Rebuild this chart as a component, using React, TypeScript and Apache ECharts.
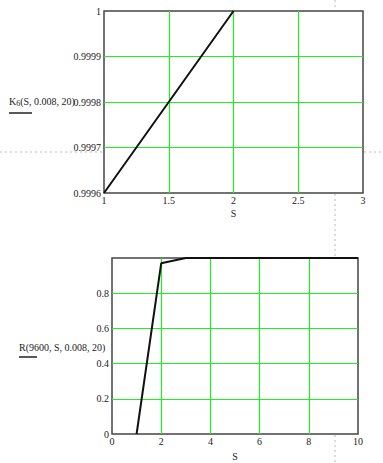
import React, { useEffect, useRef } from "react";
import * as echarts from "echarts";

const topS = [1, 1.25, 1.5, 1.75, 2];
const topK = [0.9996, 0.9997, 0.9998, 0.9999, 1.0];
const botS = [1, 2, 3, 4, 5, 6, 7, 8, 9, 10];
const botR = [0, 0.97, 0.9997, 1, 1, 1, 1, 1, 1, 1];

const FONT = "Liberation Serif";
const GREEN = "#22ee22";
const BORDER = "#444";

export default function App() {
  const ref = useRef<HTMLDivElement>(null);
  useEffect(() => {
    document.body.style.margin = "0";
    const chart = echarts.init(ref.current!, null, { renderer: "svg" });
    const axisLabel = { fontFamily: FONT, fontSize: 10, color: "#222" };
    const splitLine = { show: true, showMinLine: false, showMaxLine: false, lineStyle: { color: GREEN, width: 1.2 } };
    const dot = { stroke: "#bbb", lineWidth: 1, lineDash: [2, 3] };
    chart.setOption({
      animation: false,
      backgroundColor: "#fff",
      grid: [
        { left: 104, top: 11, width: 259, height: 182, show: true, borderColor: BORDER, borderWidth: 1.5, backgroundColor: "#fff" },
        { left: 112, top: 258, width: 246, height: 176, show: true, borderColor: BORDER, borderWidth: 1.5, backgroundColor: "#fff" },
      ],
      xAxis: [
        {
          gridIndex: 0, type: "value", min: 1, max: 3, interval: 0.5,
          axisLine: { show: false }, axisTick: { show: false }, splitLine,
          axisLabel: { ...axisLabel, margin: 2, formatter: (v: number) => String(Math.round(v * 10) / 10) },
          name: "S", nameLocation: "middle", nameGap: 15,
          nameTextStyle: { fontFamily: FONT, fontSize: 10, color: "#222" },
        },
        {
          gridIndex: 1, type: "value", min: 0, max: 10, interval: 2,
          axisLine: { show: false }, axisTick: { show: false }, splitLine,
          axisLabel: { ...axisLabel, margin: 2 },
          name: "S", nameLocation: "middle", nameGap: 17,
          nameTextStyle: { fontFamily: FONT, fontSize: 10, color: "#222" },
        },
      ],
      yAxis: [
        {
          gridIndex: 0, type: "value", min: 0.9996, max: 1, interval: 0.0001,
          axisLine: { show: false }, axisTick: { show: false }, splitLine,
          axisLabel: {
            ...axisLabel, margin: 3,
            formatter: (v: number) => (Math.abs(v - 1) < 1e-9 ? "1" : v.toFixed(4)),
          },
        },
        {
          gridIndex: 1, type: "value", min: 0, max: 1, interval: 0.2,
          axisLine: { show: false }, axisTick: { show: false }, splitLine,
          axisLabel: {
            ...axisLabel, margin: 3,
            formatter: (v: number) => (Math.abs(v - 1) < 1e-9 ? "" : String(Math.round(v * 10) / 10)),
          },
        },
      ],
      series: [
        {
          type: "line", xAxisIndex: 0, yAxisIndex: 0, symbol: "none",
          lineStyle: { color: "#111", width: 2 },
          data: topS.map((s, i) => [s, topK[i]]),
        },
        {
          type: "line", xAxisIndex: 1, yAxisIndex: 1, symbol: "none",
          lineStyle: { color: "#111", width: 2 },
          data: botS.map((s, i) => [s, botR[i]]),
        },
      ],
      graphic: [
        { type: "line", z: 0, shape: { x1: 0, y1: 152, x2: 103, y2: 152 }, style: dot },
        { type: "line", z: 0, shape: { x1: 364, y1: 152, x2: 383, y2: 152 }, style: dot },
        { type: "line", z: 0, shape: { x1: 335, y1: 0, x2: 335, y2: 10 }, style: dot },
        { type: "line", z: 0, shape: { x1: 335, y1: 194, x2: 335, y2: 257 }, style: dot },
        { type: "line", z: 0, shape: { x1: 335, y1: 435, x2: 335, y2: 463 }, style: dot },
        {
          type: "text", left: 9, top: 96,
          style: {
            text: "{a|K}{b|6}{a|(S, 0.008, 20)}",
            rich: {
              a: { fontFamily: FONT, fontSize: 10, fill: "#222" },
              b: { fontFamily: FONT, fontSize: 8, fill: "#222", verticalAlign: "bottom", padding: [4, 0, 0, 0] },
            },
          },
        },
        { type: "line", shape: { x1: 9, y1: 113, x2: 32, y2: 113 }, style: { stroke: "#222", lineWidth: 1.5 } },
        {
          type: "text", left: 19, top: 342,
          style: { text: "R(9600, S, 0.008, 20)", fontFamily: FONT, fontSize: 10, fill: "#222" },
        },
        { type: "line", shape: { x1: 19, y1: 357, x2: 37, y2: 357 }, style: { stroke: "#222", lineWidth: 1.5 } },
      ],
    });
    return () => chart.dispose();
  }, []);
  return <div ref={ref} style={{ width: 383, height: 463 }} />;
}
